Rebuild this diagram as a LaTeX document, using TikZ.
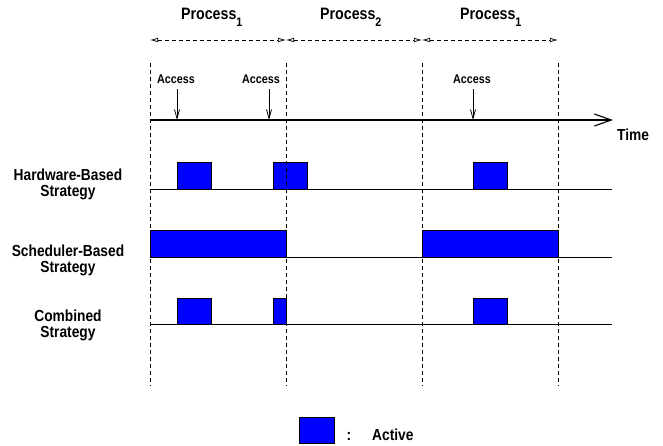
\documentclass[tikz,border=0pt]{standalone}
\usepackage{fontspec}
\setmainfont{Liberation Sans}[FakeStretch=0.86]
\usetikzlibrary{arrows.meta}
\newcommand\procsub[1]{Process\raisebox{-0.9ex}{\fontsize{12.5}{12.5}\selectfont #1}}
\begin{document}
\begin{tikzpicture}[x=1pt,y=-1pt,
  vline/.style={line width=0.7pt, dash pattern=on 4pt off 3pt},
  baseln/.style={line width=0.9pt},
  act/.style={draw=black, line width=0.9pt, fill=blue},
  lbl/.style={font=\bfseries\fontsize{16}{16}\selectfont, align=center, inner sep=0pt},
  acc/.style={font=\bfseries\fontsize{12.5}{14}\selectfont, inner sep=0pt, anchor=base west},
  ptxt/.style={font=\bfseries\fontsize{16.5}{17}\selectfont, inner sep=0pt, anchor=base west},
  proc/.style={line width=0.7pt, dash pattern=on 4pt off 3pt, {Latex[open,length=8pt,width=4.5pt]}-{Latex[open,length=8pt,width=4.5pt]}},
  accarr/.style={line width=0.8pt, -{Straight Barb[length=9pt,width=5pt]}, shorten <=6pt},
  timeax/.style={line width=1.1pt, -{Straight Barb[length=17pt,width=12pt,line width=1.1pt]}}
]
\useasboundingbox (0,0) rectangle (663,445);
% vertical dashed lines
\foreach \n/\x in {1/150,2/286,3/422,4/558}{
  \coordinate (v\n t) at (\x,63);
  \coordinate (v\n b) at (\x,386);
  \coordinate (p\n) at (\x,40);
  \draw[vline] (v\n t) -- (v\n b);
}
% process arrows
\draw[proc] (p1) -- (p2);
\draw[proc] (p2) -- (p3);
\draw[proc] (p3) -- (p4);
\node[ptxt] (pr1) at (181,19) {\procsub{1}};
\node[ptxt] (pr2) at (320,19) {\procsub{2}};
\node[ptxt] (pr3) at (460,19) {\procsub{1}};
% time axis
\coordinate (t0) at (150,120);
\coordinate (tend) at (613,120);
\draw[timeax] (t0) -- (tend);
\node[lbl, anchor=base west] (time) at (617,140) {Time};
% access
\node[acc] (a1) at (157,83) {Access};
\node[acc] (a2) at (242,83) {Access};
\node[acc] (a3) at (453,83) {Access};
\coordinate (x1) at (177,120);
\coordinate (x2) at (269,120);
\coordinate (x3) at (473,120);
\draw[accarr] (a1.south -| x1) -- (x1);
\draw[accarr] (a2.south -| x2) -- (x2);
\draw[accarr] (a3.south -| x3) -- (x3);
% rows
\node[lbl] (hw) at (68,184) {Hardware-Based\\[0pt]Strategy};
\node[lbl] (sc) at (68,260) {Scheduler-Based\\[0pt]Strategy};
\node[lbl] (cb) at (68,325) {Combined\\[0pt]Strategy};
\draw[act] (177,189) rectangle (211,162);
\draw[act] (273,189) rectangle (307,162);
\draw[act] (473,189) rectangle (507,162);
\draw[act] (150,257) rectangle (286,230);
\draw[act] (422,257) rectangle (558,230);
\draw[act] (177,324) rectangle (211,298);
\draw[act] (273,324) rectangle (286,298);
\draw[act] (473,324) rectangle (507,298);
\draw[vline] (v2t) -- (v2b);
\draw[baseln] (150,189) -- (612,189);
\draw[baseln] (150,257) -- (612,257);
\draw[baseln] (150,324) -- (612,324);
% legend
\draw[act] (299,417) rectangle (334,443);
\node[lbl, anchor=base] (colon) at (349,440) {:};
\node[lbl, anchor=base west] (active) at (372,440) {Active};
\end{tikzpicture}
\end{document}
